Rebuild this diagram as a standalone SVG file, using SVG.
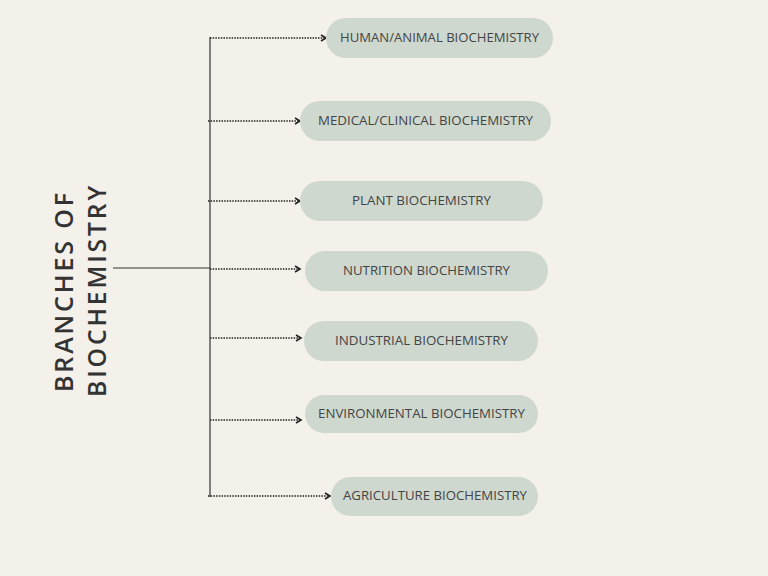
<svg xmlns="http://www.w3.org/2000/svg" width="768" height="576" viewBox="0 0 768 576">
<defs>
<marker id="ah" viewBox="0 0 8 8" refX="6" refY="4" markerWidth="8" markerHeight="8" markerUnits="userSpaceOnUse" orient="auto">
<path d="M1,1 L6,4 L1,7" fill="none" stroke="#222" stroke-width="1.6"/>
</marker>
<style>
.pill{fill:#cfd8cf;}
.lbl{font-family:"Open Sans","Liberation Sans",sans-serif;font-size:13px;fill:#444;text-anchor:middle;dominant-baseline:central;}
.dot{stroke:#222;stroke-width:1.4;stroke-dasharray:1.5 1.2;fill:none;marker-end:url(#ah);}
.solid{stroke:#333;stroke-width:1.2;fill:none;}
.title{font-family:"Open Sans","Liberation Sans",sans-serif;font-size:26px;font-weight:600;fill:#333;letter-spacing:3px;text-anchor:middle;}
</style>
</defs>
<rect width="768" height="576" fill="#f4f0ea"/>
<g id="title">
<text class="title" transform="translate(73,291) rotate(-90)" textLength="202" lengthAdjust="spacingAndGlyphs">BRANCHES OF</text>
<text class="title" transform="translate(106,290) rotate(-90)" textLength="214" lengthAdjust="spacingAndGlyphs">BIOCHEMISTRY</text>
</g>
<g id="connectors">
<line class="solid" x1="113" y1="268" x2="210" y2="268"/>
<line class="solid" x1="210" y1="37" x2="210" y2="497"/>
<line class="dot" x1="210" y1="38" x2="326" y2="38"/>
<line class="dot" x1="208" y1="121" x2="300" y2="121"/>
<line class="dot" x1="208" y1="201" x2="300" y2="201"/>
<line class="dot" x1="210" y1="269" x2="300" y2="269"/>
<line class="dot" x1="210" y1="338" x2="301" y2="338"/>
<line class="dot" x1="210" y1="420" x2="301" y2="420"/>
<line class="dot" x1="208" y1="496" x2="330" y2="496"/>
</g>
<g id="n1"><rect class="pill" x="326" y="18" width="227" height="40" rx="20"/><text class="lbl" x="439.5" y="37" textLength="199" lengthAdjust="spacingAndGlyphs">HUMAN/ANIMAL BIOCHEMISTRY</text></g>
<g id="n2"><rect class="pill" x="300" y="101" width="251" height="40" rx="20"/><text class="lbl" x="425.5" y="120" textLength="215" lengthAdjust="spacingAndGlyphs">MEDICAL/CLINICAL BIOCHEMISTRY</text></g>
<g id="n3"><rect class="pill" x="300" y="181" width="243" height="40" rx="20"/><text class="lbl" x="421.5" y="200" textLength="139" lengthAdjust="spacingAndGlyphs">PLANT BIOCHEMISTRY</text></g>
<g id="n4"><rect class="pill" x="305" y="251" width="243" height="40" rx="20"/><text class="lbl" x="426.5" y="270" textLength="167" lengthAdjust="spacingAndGlyphs">NUTRITION BIOCHEMISTRY</text></g>
<g id="n5"><rect class="pill" x="304" y="321" width="234" height="40" rx="20"/><text class="lbl" x="421.5" y="340" textLength="173" lengthAdjust="spacingAndGlyphs">INDUSTRIAL BIOCHEMISTRY</text></g>
<g id="n6"><rect class="pill" x="305" y="395" width="233" height="38" rx="19"/><text class="lbl" x="421.5" y="413" textLength="207" lengthAdjust="spacingAndGlyphs">ENVIRONMENTAL BIOCHEMISTRY</text></g>
<g id="n7"><rect class="pill" x="331" y="477" width="207" height="39" rx="19.5"/><text class="lbl" x="435" y="495" textLength="184" lengthAdjust="spacingAndGlyphs">AGRICULTURE BIOCHEMISTRY</text></g>
</svg>
